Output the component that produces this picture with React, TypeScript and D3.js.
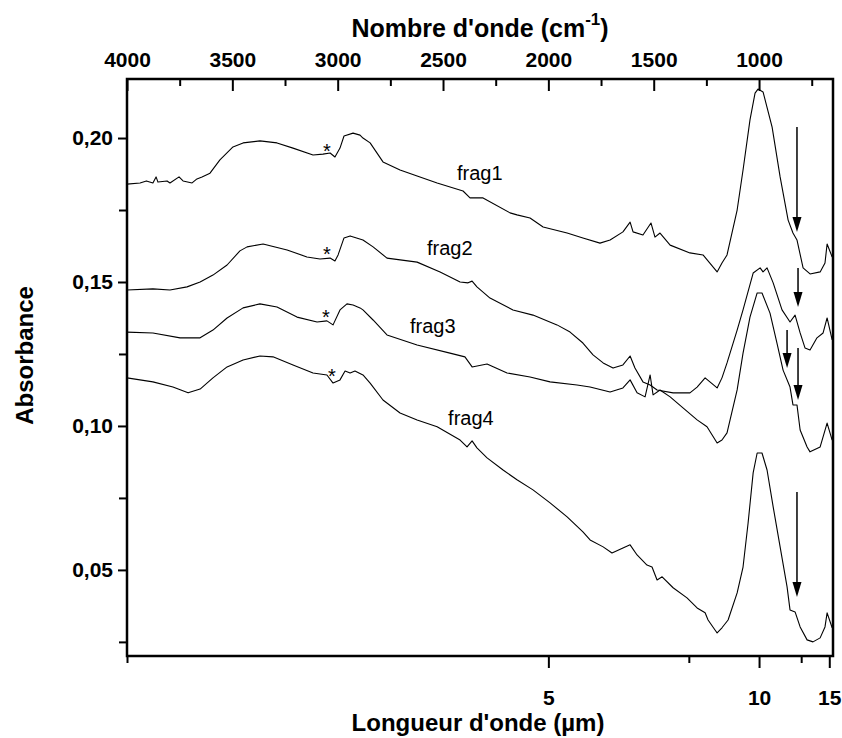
import React, { useEffect, useRef } from "react";
import * as d3 from "d3";

// spectra (wavenumber in cm-1, absorbance)
const frag1Wn = [4000, 3938, 3908, 3877, 3862, 3853, 3810, 3796, 3753, 3734, 3691, 3668, 3644, 3606, 3559, 3497, 3449, 3369, 3288, 3212, 3117, 3070, 3036, 3013, 2989, 2970, 2927, 2894, 2880, 2846, 2785, 2704, 2623, 2528, 2405, 2372, 2310, 2182, 2149, 2087, 2025, 1911, 1836, 1755, 1707, 1646, 1612, 1598, 1551, 1513, 1494, 1470, 1422, 1328, 1266, 1199, 1176, 1152, 1104, 1076, 1043, 1019, 1005, 981, 938, 900, 862, 839, 820, 791, 758, 710, 687, 677, 653];
const frag1Abs = [0.184, 0.1844, 0.1851, 0.1844, 0.1865, 0.1847, 0.1851, 0.1844, 0.1865, 0.1851, 0.1844, 0.1858, 0.1865, 0.1878, 0.1924, 0.1969, 0.1983, 0.199, 0.1983, 0.1965, 0.1941, 0.1944, 0.1948, 0.1934, 0.1965, 0.2007, 0.2017, 0.201, 0.2, 0.1983, 0.1917, 0.1889, 0.1868, 0.1844, 0.1816, 0.1792, 0.1792, 0.174, 0.1733, 0.1722, 0.1691, 0.167, 0.1653, 0.1635, 0.1646, 0.1674, 0.1708, 0.1674, 0.1663, 0.1705, 0.1656, 0.167, 0.1628, 0.1601, 0.1594, 0.1535, 0.1566, 0.1594, 0.175, 0.1889, 0.2063, 0.2156, 0.217, 0.216, 0.2038, 0.1865, 0.1715, 0.167, 0.1646, 0.1549, 0.1528, 0.1535, 0.1566, 0.1632, 0.1587];

const frag2Wn = [4000, 3877, 3796, 3715, 3653, 3592, 3525, 3464, 3430, 3354, 3240, 3146, 3084, 3036, 3013, 2998, 2970, 2941, 2880, 2832, 2766, 2623, 2514, 2419, 2381, 2362, 2339, 2277, 2168, 2073, 1959, 1897, 1836, 1788, 1740, 1693, 1646, 1612, 1589, 1551, 1517, 1484, 1408, 1328, 1294, 1256, 1199, 1176, 1152, 1104, 1076, 1028, 995, 981, 962, 933, 891, 853, 829, 805, 782, 758, 725, 696, 677, 653];
const frag2Abs = [0.1472, 0.1476, 0.1472, 0.1483, 0.15, 0.1524, 0.1559, 0.1608, 0.1622, 0.1632, 0.1611, 0.1587, 0.158, 0.1583, 0.1573, 0.1594, 0.1653, 0.166, 0.1646, 0.1622, 0.1583, 0.1569, 0.1535, 0.15, 0.1497, 0.1503, 0.1483, 0.1444, 0.1403, 0.1385, 0.1351, 0.1326, 0.1288, 0.1247, 0.1219, 0.1201, 0.1212, 0.1243, 0.1201, 0.1153, 0.1142, 0.1125, 0.1115, 0.1115, 0.1135, 0.1167, 0.1132, 0.1167, 0.1219, 0.1333, 0.1403, 0.1531, 0.1549, 0.1535, 0.1549, 0.1497, 0.1403, 0.1361, 0.1385, 0.1323, 0.1271, 0.1264, 0.1306, 0.1323, 0.1375, 0.1299];

const frag3Wn = [4000, 3877, 3748, 3653, 3592, 3525, 3449, 3369, 3288, 3193, 3098, 3051, 3022, 2989, 2956, 2927, 2894, 2880, 2832, 2766, 2623, 2467, 2396, 2362, 2291, 2196, 2087, 1992, 1864, 1802, 1707, 1646, 1612, 1579, 1541, 1517, 1503, 1470, 1422, 1361, 1294, 1247, 1199, 1176, 1152, 1104, 1076, 1043, 1009, 986, 948, 915, 886, 853, 839, 820, 805, 772, 758, 710, 677, 653];
const frag3Abs = [0.1326, 0.1323, 0.1306, 0.1306, 0.1333, 0.1375, 0.141, 0.1424, 0.1413, 0.1378, 0.1361, 0.1365, 0.1351, 0.1403, 0.1424, 0.142, 0.141, 0.1403, 0.1368, 0.1316, 0.1281, 0.1253, 0.124, 0.1205, 0.1215, 0.1184, 0.117, 0.1153, 0.1142, 0.1135, 0.1118, 0.1132, 0.116, 0.1115, 0.1101, 0.1177, 0.1108, 0.1125, 0.1101, 0.1063, 0.1021, 0.0997, 0.0941, 0.0951, 0.0976, 0.1125, 0.1253, 0.1378, 0.1462, 0.1462, 0.1392, 0.1288, 0.1194, 0.1135, 0.1073, 0.1073, 0.0986, 0.0927, 0.091, 0.0927, 0.101, 0.0951];

const frag4Wn = [4000, 3877, 3782, 3710, 3653, 3592, 3525, 3449, 3369, 3307, 3212, 3117, 3051, 3022, 2989, 2965, 2941, 2918, 2880, 2846, 2785, 2704, 2623, 2528, 2419, 2386, 2362, 2339, 2291, 2215, 2149, 2073, 1992, 1911, 1836, 1802, 1740, 1698, 1646, 1612, 1579, 1532, 1508, 1484, 1460, 1408, 1342, 1294, 1256, 1242, 1199, 1176, 1147, 1104, 1076, 1052, 1028, 1009, 986, 962, 933, 900, 867, 853, 829, 805, 772, 744, 710, 687, 677, 653];
const frag4Abs = [0.1167, 0.1153, 0.1135, 0.1115, 0.1128, 0.1167, 0.1205, 0.1229, 0.1243, 0.124, 0.1212, 0.1184, 0.1177, 0.1149, 0.116, 0.1191, 0.1184, 0.1191, 0.1177, 0.1149, 0.109, 0.1045, 0.1021, 0.0997, 0.0951, 0.0927, 0.0948, 0.0924, 0.0889, 0.0847, 0.0813, 0.0778, 0.0733, 0.0684, 0.0632, 0.0604, 0.058, 0.0559, 0.0576, 0.0587, 0.0552, 0.0517, 0.051, 0.0465, 0.0476, 0.0438, 0.0403, 0.0368, 0.0351, 0.0326, 0.0281, 0.0299, 0.0326, 0.042, 0.051, 0.0663, 0.0837, 0.0906, 0.0906, 0.0847, 0.0719, 0.058, 0.0441, 0.0361, 0.0354, 0.0302, 0.0257, 0.025, 0.0264, 0.0302, 0.0351, 0.0299];

// labels next to each curve
const fragNames = ["frag1", "frag2", "frag3", "frag4"];
const fragLabelWn = [2434, 2576, 2657, 2476];
const fragLabelAbs = [0.1854, 0.1594, 0.1323, 0.1003];

// asterisks marking the 3050 cm-1 feature
const starWn = [3051, 3051, 3056, 3027];
const starAbs = [0.1969, 0.1611, 0.1392, 0.1188];

// arrows: wavenumber, start and tip absorbance
const arrowWn = [820, 815, 867, 815, 820];
const arrowFrom = [0.2038, 0.1549, 0.1333, 0.1271, 0.0771];
const arrowTo = [0.1674, 0.1413, 0.1201, 0.109, 0.0406];

// ticks
const wnMajor = [4000, 3500, 3000, 2500, 2000, 1500, 1000];
const wnMinor = [3750, 3250, 2750, 2250, 1750, 1250, 750];
const lambdaMajor = [5, 10, 15];
const lambdaMinor = [2.5, 7.5, 12.5];
const absMajor = [0.05, 0.1, 0.15, 0.2];
const absMinor = [0.025, 0.075, 0.125, 0.175];

export default function App() {
	const svgRef = useRef<SVGSVGElement>(null);

	useEffect(() => {
		if (!svgRef.current) return;
		const svg = d3.select(svgRef.current);
		svg.selectAll("*").remove();

		const left = 127;
		const right = 833;
		const top = 79;
		const bottom = 656;
		const font = "'Liberation Sans', Arial, sans-serif";

		const x = d3.scaleLinear().domain([4000, 649]).range([left, right]);
		const y = d3.scaleLinear().domain([0.0201, 0.2205]).range([bottom, top]);
		// wavelength axis: 1/lambda is linear in wavenumber
		const xl = d3
			.scalePow()
			.exponent(-1)
			.domain([10000 / 4000, 10000 / 649])
			.range([left, right]);

		const fmt = (d: number) => d3.format(".2f")(d).replace(".", ",");

		// top axis (wavenumber), ticks inside
		const topAxis = svg.append("g").attr("transform", `translate(0,${top})`);
		topAxis.call(
			d3.axisTop(x).tickValues(wnMajor).tickSizeInner(-12).tickSizeOuter(0).tickPadding(12).tickFormat(d3.format("d"))
		);
		const topMinor = svg.append("g").attr("transform", `translate(0,${top})`);
		topMinor.call(d3.axisTop(x).tickValues(wnMinor).tickSizeInner(-7).tickSizeOuter(0).tickFormat(() => ""));

		// bottom axis (wavelength), ticks outside
		const botAxis = svg.append("g").attr("transform", `translate(0,${bottom})`);
		botAxis.call(d3.axisBottom(xl).tickValues(lambdaMajor).tickSizeInner(12).tickSizeOuter(0).tickPadding(22).tickFormat(d3.format("d")));
		const botMinor = svg.append("g").attr("transform", `translate(0,${bottom})`);
		botMinor.call(d3.axisBottom(xl).tickValues(lambdaMinor).tickSizeInner(7).tickSizeOuter(0).tickFormat(() => ""));

		// left axis (absorbance)
		const leftAxis = svg.append("g").attr("transform", `translate(${left},0)`);
		leftAxis.call(d3.axisLeft(y).tickValues(absMajor).tickSizeInner(9).tickSizeOuter(0).tickPadding(5).tickFormat((d) => fmt(d as number)));
		const leftMinor = svg.append("g").attr("transform", `translate(${left},0)`);
		leftMinor.call(d3.axisLeft(y).tickValues(absMinor).tickSizeInner(8).tickSizeOuter(0).tickFormat(() => ""));

		svg.selectAll(".domain").remove();
		svg.selectAll(".tick line").attr("stroke", "#000").attr("stroke-width", 2);
		svg
			.selectAll(".tick text")
			.attr("fill", "#000")
			.style("font-family", font)
			.style("font-size", "21px")
			.style("font-weight", "bold");

		// frame
		svg
			.append("rect")
			.attr("x", left)
			.attr("y", top)
			.attr("width", right - left)
			.attr("height", bottom - top)
			.attr("fill", "none")
			.attr("stroke", "#000")
			.attr("stroke-width", 2.5);

		// spectra
		const spectra = [
			{ wn: frag1Wn, abs: frag1Abs },
			{ wn: frag2Wn, abs: frag2Abs },
			{ wn: frag3Wn, abs: frag3Abs },
			{ wn: frag4Wn, abs: frag4Abs },
		];
		const line = d3
			.line<[number, number]>()
			.x((d) => x(d[0]))
			.y((d) => y(d[1]));
		spectra.forEach((s) => {
			svg
				.append("path")
				.datum(d3.zip(s.wn, s.abs) as [number, number][])
				.attr("fill", "none")
				.attr("stroke", "#000")
				.attr("stroke-width", 1.1)
				.attr("stroke-linejoin", "round")
				.attr("d", line);
		});

		// curve labels
		fragNames.forEach((n, i) => {
			svg
				.append("text")
				.attr("x", x(fragLabelWn[i]))
				.attr("y", y(fragLabelAbs[i]))
				.style("font-family", font)
				.style("font-size", "20px")
				.text(n);
		});

		// asterisks
		starWn.forEach((w, i) => {
			svg
				.append("text")
				.attr("x", x(w))
				.attr("y", y(starAbs[i]) + 11)
				.attr("text-anchor", "middle")
				.style("font-family", font)
				.style("font-size", "20px")
				.text("*");
		});

		// arrows
		arrowWn.forEach((w, i) => {
			const ax = x(w);
			const y0 = y(arrowFrom[i]);
			const y1 = y(arrowTo[i]);
			svg.append("line").attr("x1", ax).attr("x2", ax).attr("y1", y0).attr("y2", y1 - 10).attr("stroke", "#000").attr("stroke-width", 1.5);
			svg
				.append("path")
				.attr("d", `M${ax - 4.5},${y1 - 15}L${ax + 4.5},${y1 - 15}L${ax},${y1}Z`)
				.attr("fill", "#000");
		});

		// axis titles
		const topTitle = svg
			.append("text")
			.attr("x", 480)
			.attr("y", 37)
			.attr("text-anchor", "middle")
			.style("font-family", font)
			.style("font-size", "25px")
			.style("font-weight", "bold");
		topTitle.append("tspan").text("Nombre d'onde (cm");
		topTitle.append("tspan").attr("dy", -12).style("font-size", "17px").text("-1");
		topTitle.append("tspan").attr("dy", 12).text(")");

		svg
			.append("text")
			.attr("x", 478)
			.attr("y", 731)
			.attr("text-anchor", "middle")
			.style("font-family", font)
			.style("font-size", "24px")
			.style("font-weight", "bold")
			.text("Longueur d'onde (µm)");

		svg
			.append("text")
			.attr("transform", `translate(33,${(top + bottom) / 2 - 12}) rotate(-90)`)
			.attr("text-anchor", "middle")
			.style("font-family", font)
			.style("font-size", "24px")
			.style("font-weight", "bold")
			.text("Absorbance");
	}, []);

	return (
		<svg
			ref={svgRef}
			width={842}
			height={738}
			style={{ position: "absolute", left: 0, top: 0, background: "#fff" }}
		/>
	);
}
